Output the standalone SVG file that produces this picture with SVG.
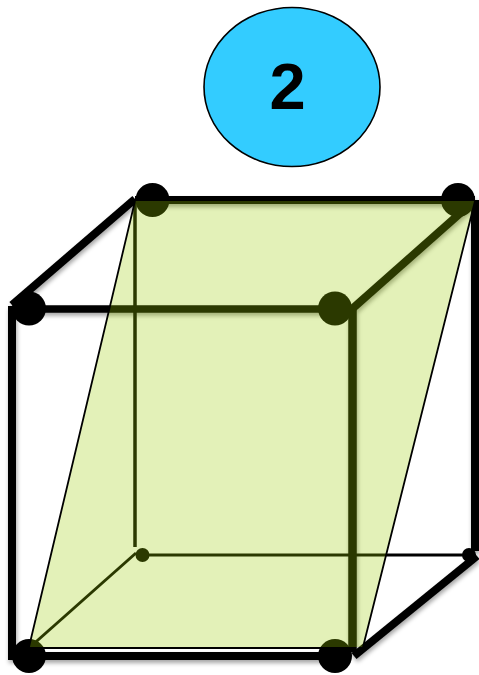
<svg xmlns="http://www.w3.org/2000/svg" width="479" height="675" viewBox="0 0 479 675">
  <defs>
    <filter id="sh" x="0" y="0" width="479" height="675" filterUnits="userSpaceOnUse">
      <feDropShadow dx="1" dy="3" stdDeviation="2" flood-color="#000" flood-opacity="0.35"/>
    </filter>
  </defs>
  <style>
    .e { stroke: #000; fill: none; stroke-linecap: butt; }
    .big { fill: #000; }
    .small { fill: #000; }
    .plane { fill: #9ccc00; fill-opacity: 0.28; stroke: none; }
    .edge { stroke: #000; stroke-width: 1.8; fill: none; }
    text { font-family: "Liberation Sans", Arial, sans-serif; font-weight: 700; font-size: 65px; fill: #000; text-anchor: middle; }
  </style>
  <rect width="479" height="675" fill="#fff"/>
  <g id="badge">
    <ellipse cx="292" cy="87" rx="88" ry="79.5" fill="#33ccff" stroke="#000" stroke-width="1.6"/>
    <text x="287.500" y="109">2</text>
  </g>
  <g id="connectors">
    <g filter="url(#sh)">
      <path class="e" stroke-width="8" d="M135 200H475"/>
      <path class="e" stroke-width="8" d="M475 200V551"/>
      <path class="e" stroke-width="8" d="M12 306V660"/>
      <path class="e" stroke-width="8" d="M8 656H340"/>
      <path class="e" stroke-width="7.500" d="M29 309H335"/>
      <path class="e" stroke-width="8.500" d="M352.500 308V652"/>
      <path class="e" stroke-width="8" d="M135 199L12 305"/>
      <path class="e" stroke-width="8" d="M474 201L352 309"/>
      <path class="e" stroke-width="8" d="M354 656L477 556"/>
    </g>
    <path class="e" stroke-width="2" d="M29 648H352"/>
    <path class="e" stroke-width="3.500" d="M135 200V547"/>
    <path class="e" stroke-width="3" d="M142 555H469"/>
    <path class="e" stroke-width="3" d="M29 648L136 553"/>
  </g>
  <g id="node-top-left-back"><circle class="big" cx="152.500" cy="200" r="17"/></g>
  <g id="node-top-right-back"><circle class="big" cx="458" cy="200" r="17"/></g>
  <g id="node-top-left-front"><circle class="big" cx="29" cy="308.500" r="17"/></g>
  <g id="node-top-right-front"><circle class="big" cx="335" cy="308.500" r="17"/></g>
  <g id="node-bottom-left-back"><circle class="small" cx="142.500" cy="555" r="7"/></g>
  <g id="node-bottom-right-back"><circle class="small" cx="469" cy="555" r="7"/></g>
  <g id="node-bottom-left-front"><circle class="big" cx="29" cy="656" r="17"/></g>
  <g id="node-bottom-right-front"><circle class="big" cx="335" cy="656" r="17"/></g>
  <g id="plane">
    <path class="plane" d="M135 201H475L363 647H29Z"/>
    <path class="edge" d="M135 201L29 647M475 201L363 647"/>
  </g>
</svg>
